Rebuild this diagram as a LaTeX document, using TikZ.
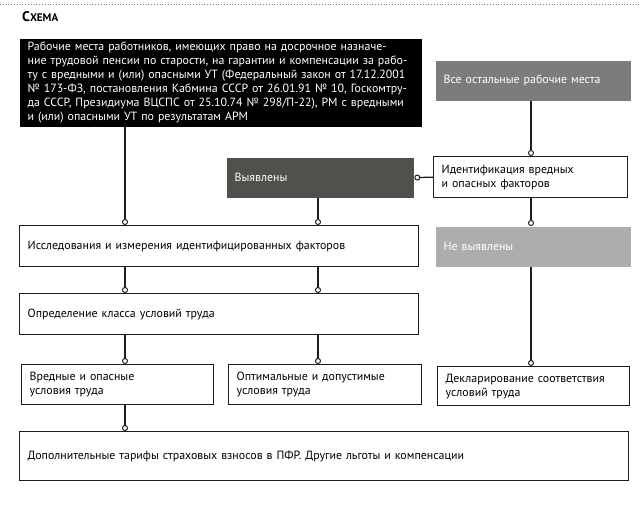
\documentclass[tikz,border=0pt]{standalone}
\usepackage{fontspec}
\setmainfont{PT Sans}
\usetikzlibrary{arrows.meta}
\definecolor{cblack}{HTML}{000000}
\definecolor{cgrayA}{HTML}{7C7D7B}
\definecolor{cgrayB}{HTML}{50514D}
\definecolor{cgrayC}{HTML}{ADAEAC}
\definecolor{cline}{HTML}{1E1E1E}
\tikzset{
  box/.style={draw=cline, line width=1.3pt, fill=white, anchor=north west, inner xsep=8pt, inner ysep=0pt,
    align=left, font=\fontsize{11.9}{14}\selectfont, text=black},
  dbox/.style={box, draw=none, text=white},
  conn/.style={draw=cline, line width=1.3pt, -{Circle[open, length=6pt, width=6pt, line width=1pt]}},
}
\begin{document}
\begin{tikzpicture}[x=1pt, y=-1pt]
\useasboundingbox (0,0) rectangle (640,505);
\draw[gray, line width=0.8pt, dash pattern=on 0.8pt off 2pt] (0,4) -- (640,4);
\node[anchor=base west, inner sep=0pt, font=\bfseries] (title) at (22,22) {{\fontsize{14}{14}\selectfont С}{\fontsize{11}{14}\selectfont ХЕМА}};
\coordinate (c1) at (125,0);
\coordinate (c2) at (318,0);
\coordinate (c3) at (531,0);
\node[dbox, fill=cblack, minimum width=402pt, minimum height=88pt, text width=386pt] (top) at (19,38)
 {Рабочие места работников, имеющих право на досрочное назначе-\\
ние трудовой пенсии по старости, на гарантии и компенсации за рабо-\\
ту с вредными и (или) опасными УТ (Федеральный закон от 17.12.2001\\
№ 173-ФЗ, постановления Кабмина СССР от 26.01.91 № 10, Госкомтру-\\
да СССР, Президиума ВЦСПС от 25.10.74 № 298/П-22), РМ с вредными\\
и (или) опасными УТ по результатам АРМ};
\node[dbox, fill=cgrayA, minimum width=195pt, minimum height=40pt, text width=179pt] (rest) at (435,60) {Все остальные рабочие места};
\node[dbox, fill=cgrayB, minimum width=187pt, minimum height=40pt, text width=171pt] (found) at (226,157) {Выявлены};
\node[box, minimum width=194pt, minimum height=41pt, text width=178pt] (ident) at (433,156) {Идентификация вредных\\и опасных факторов};
\node[dbox, fill=cgrayC, minimum width=195pt, minimum height=40pt, text width=179pt] (notfound) at (435,226) {Не выявлены};
\node[box, minimum width=399pt, minimum height=41pt, text width=383pt] (research) at (19,225) {Исследования и измерения идентифицированных факторов};
\node[box, minimum width=399pt, minimum height=41pt, text width=383pt] (classdef) at (19,293) {Определение класса условий труда};
\node[box, minimum width=192pt, minimum height=40pt, text width=176pt] (harm) at (21,364) {Вредные и опасные\\условия труда};
\node[box, minimum width=193pt, minimum height=40pt, text width=177pt] (optim) at (228,364) {Оптимальные и допустимые\\условия труда};
\node[box, minimum width=192pt, minimum height=39pt, text width=176pt] (decl) at (437,366) {Декларирование соответствия\\условий труда};
\node[box, minimum width=609pt, minimum height=49pt, text width=593pt] (extra) at (19,431) {Дополнительные тарифы страховых взносов в ПФР. Другие льготы и компенсации};
\draw[conn] (top.south -| c1) -- (research.north -| c1);
\draw[conn] (rest.south -| c3) -- (ident.north -| c3);
\draw[conn] (ident.west) -- (found.east);
\draw[conn] (found.south -| c2) -- (research.north -| c2);
\draw[conn] (ident.south -| c3) -- (notfound.north -| c3);
\draw[conn] (research.south -| c1) -- (classdef.north -| c1);
\draw[conn] (research.south -| c2) -- (classdef.north -| c2);
\draw[conn] (classdef.south -| c1) -- (harm.north -| c1);
\draw[conn] (classdef.south -| c2) -- (optim.north -| c2);
\draw[conn] (notfound.south -| c3) -- (decl.north -| c3);
\draw[conn] (harm.south -| c1) -- (extra.north -| c1);
\end{tikzpicture}
\end{document}
